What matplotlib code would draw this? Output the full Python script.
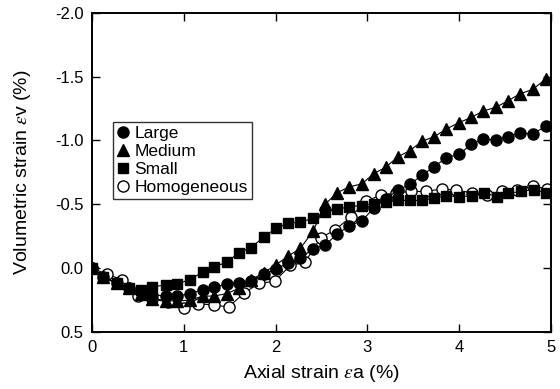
import matplotlib
matplotlib.use("Agg")
import matplotlib.pyplot as plt

plt.rcParams['font.family'] = ['Liberation Sans', 'DejaVu Sans']
plt.rcParams['mathtext.fontset'] = 'stix'

# Large inclusions (filled circles)
large_x = [0.0, 0.12, 0.27, 0.40, 0.53, 0.66, 0.81, 0.93, 1.07, 1.21, 1.33, 1.47, 1.60,
           1.73, 1.87, 2.00, 2.14, 2.27, 2.41, 2.54, 2.67, 2.80, 2.94, 3.07, 3.20, 3.33,
           3.46, 3.60, 3.73, 3.86, 4.00, 4.13, 4.26, 4.40, 4.53, 4.66, 4.80, 4.94]
large_y = [0.0, 0.07, 0.12, 0.16, 0.19, 0.21, 0.22, 0.22, 0.20, 0.17, 0.15, 0.125, 0.115,
           0.10, 0.05, 0.01, -0.04, -0.08, -0.15, -0.18, -0.265, -0.33, -0.37, -0.47, -0.54,
           -0.61, -0.655, -0.73, -0.795, -0.865, -0.89, -0.97, -1.01, -1.005, -1.03, -1.06,
           -1.05, -1.11]

# Medium inclusions (filled triangles)
medium_x = large_x
medium_y = [0.0, 0.07, 0.12, 0.16, 0.20, 0.24, 0.255, 0.26, 0.25, 0.22, 0.22, 0.20, 0.16,
            0.094, 0.037, -0.023, -0.094, -0.154, -0.29, -0.50, -0.59, -0.635, -0.66, -0.74,
            -0.79, -0.87, -0.92, -0.995, -1.03, -1.09, -1.14, -1.18, -1.23, -1.26, -1.31,
            -1.365, -1.40, -1.48]

# Small inclusions (filled squares)
small_x = [0.0, 0.12, 0.27, 0.40, 0.53, 0.66, 0.81, 0.93, 1.07, 1.21, 1.33, 1.47, 1.60,
           1.73, 1.87, 2.00, 2.14, 2.27, 2.41, 2.54, 2.67, 2.80, 2.94, 3.07, 3.20, 3.33,
           3.46, 3.60, 3.73, 3.86, 4.00, 4.14, 4.27, 4.41, 4.53, 4.67, 4.81, 4.95]
small_y = [0.0, 0.07, 0.12, 0.16, 0.17, 0.15, 0.13, 0.125, 0.09, 0.03, -0.01, -0.045, -0.12,
           -0.16, -0.24, -0.31, -0.35, -0.36, -0.39, -0.44, -0.46, -0.48, -0.49, -0.505,
           -0.52, -0.53, -0.53, -0.53, -0.55, -0.565, -0.56, -0.565, -0.59, -0.56, -0.585,
           -0.60, -0.615, -0.59]

# Homogeneous specimen (open circles)
homo_x = [0.0, 0.165, 0.33, 0.50, 0.66, 0.83, 1.00, 1.16, 1.33, 1.49, 1.66, 1.82, 1.99,
          2.16, 2.32, 2.49, 2.65, 2.82, 2.98, 3.15, 3.31, 3.48, 3.64, 3.81, 3.97, 4.14,
          4.30, 4.47, 4.63, 4.80, 4.96]
homo_y = [0.0, 0.05, 0.09, 0.22, 0.24, 0.27, 0.315, 0.28, 0.29, 0.305, 0.195, 0.12, 0.105,
          -0.02, -0.045, -0.235, -0.30, -0.40, -0.525, -0.57, -0.59, -0.60, -0.60, -0.62,
          -0.61, -0.59, -0.57, -0.60, -0.61, -0.64, -0.62]

x_ticks = [0, 1, 2, 3, 4, 5]
y_ticks = [-2.0, -1.5, -1.0, -0.5, 0.0, 0.5]

fig = plt.figure(figsize=(5.6, 3.89), dpi=100)
ax = fig.add_axes([0.164, 0.147, 0.820, 0.820])

lw = 0.8
ms = 8
ax.plot(homo_x, homo_y, '-', color='black', lw=lw, marker='o', ms=ms,
        mfc='white', mec='black', mew=1.0, label='Homogeneous', zorder=2)
ax.plot(small_x, small_y, '-', color='black', lw=lw, marker='s', ms=ms - 0.5,
        mfc='black', mec='black', label='Small', zorder=3)
ax.plot(medium_x, medium_y, '-', color='black', lw=lw, marker='^', ms=ms,
        mfc='black', mec='black', label='Medium', zorder=4)
ax.plot(large_x, large_y, '-', color='black', lw=lw, marker='o', ms=ms,
        mfc='black', mec='black', label='Large', zorder=5)

ax.set_xlim(0, 5)
ax.set_ylim(0.5, -2.0)
ax.set_xticks(x_ticks)
ax.set_yticks(y_ticks)
ax.set_yticklabels(['%.1f' % v for v in y_ticks])
ax.tick_params(direction='in', top=True, right=True, length=6, width=1,
               labelsize=12, pad=6)
for s in ax.spines.values():
    s.set_linewidth(1.4)

ax.set_xlabel(r'Axial strain $\varepsilon$a (%)', fontsize=14, labelpad=6)
ax.set_ylabel(r'Volumetric strain $\varepsilon$v (%)', fontsize=14, labelpad=16)

handles, labels = ax.get_legend_handles_labels()
order = [3, 2, 1, 0]
leg = ax.legend([handles[i] for i in order], [labels[i] for i in order],
                loc='upper left', bbox_to_anchor=(0.046, 0.658), borderaxespad=0,
                fontsize=12.5, frameon=True, fancybox=False, edgecolor='black',
                handlelength=0.6, handletextpad=0.4, labelspacing=0.15,
                borderpad=0.25)
for line in leg.get_lines():
    line.set_linestyle('None')
leg.get_frame().set_linewidth(1.0)

fig.savefig('out.png', dpi=100)
